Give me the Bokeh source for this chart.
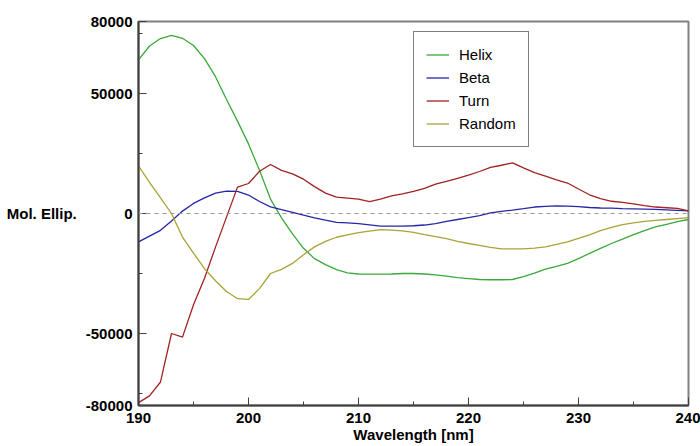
from bokeh.plotting import figure
from bokeh.models import (Range1d, FixedTicker, PrintfTickFormatter, Span,
                          Legend, LegendItem)
from bokeh.embed import file_html
from bokeh.resources import INLINE

wavelength = list(range(190, 241))

helix = [64000, 69800, 72900, 74200, 73000, 70000, 64500, 57000, 47500, 38500,
         29000, 18000, 6000, -1800, -8500, -14500, -18800, -21300, -23400, -24700,
         -25200, -25300, -25300, -25200, -25000, -25000, -25200, -25600, -26100, -26700,
         -27100, -27500, -27600, -27600, -27500, -26300, -24800, -23200, -22000, -20800,
         -18800, -16600, -14500, -12500, -10700, -8800, -7100, -5600, -4500, -3400, -2500]

beta = [-11800, -9400, -7000, -3100, 1000, 4200, 6500, 8500, 9300, 9200,
        7700, 5000, 2750, 1600, 500, -700, -1800, -2800, -3700, -3900,
        -4200, -4700, -5300, -5300, -5300, -5100, -4800, -4200, -3300, -2500,
        -1700, -900, 300, 900, 1400, 2000, 2700, 3000, 3200, 3100,
        2900, 2500, 2300, 2200, 2000, 1900, 1800, 1700, 1500, 1300, 1100]

turn = [-78800, -76000, -70200, -50000, -51500, -38000, -27000, -14000, -1500, 11000,
        12500, 17600, 20400, 18000, 16500, 14300, 11200, 8500, 6800, 6400,
        6000, 4900, 6000, 7300, 8200, 9200, 10500, 12200, 13400, 14600,
        16000, 17500, 19200, 20100, 21100, 19000, 17000, 15600, 14000, 12700,
        10200, 7800, 6200, 5100, 4600, 4000, 3300, 2700, 2400, 2100, 1100]

random_coil = [19900, 13000, 6500, 0, -9800, -16500, -23000, -28000, -32500, -35500,
               -35800, -31300, -25000, -23300, -20800, -17200, -13900, -11600, -9900, -8900,
               -8000, -7300, -6700, -6900, -7200, -7900, -8800, -9600, -10500, -11600,
               -12500, -13300, -14100, -14750, -14750, -14750, -14400, -13900, -12900, -11800,
               -10400, -8900, -7100, -5800, -4600, -3900, -3300, -2900, -2500, -2100, -1700]

series_names = ["Helix", "Beta", "Turn", "Random"]
series_colors = ["#3aa83a", "#2626a6", "#a02222", "#aaa236"]

x_ticks = [190, 200, 210, 220, 230, 240]
x_minor = [195, 205, 215, 225, 235]
y_ticks = [-80000, -50000, 0, 50000, 80000]
y_minor = [-75000, -25000, 25000, 75000]

x_title = "Wavelength [nm]"
y_title = "Mol. Ellip."

FONT = "Liberation Sans"

p = figure(width=700, height=446, output_backend="svg", toolbar_location=None,
           x_range=Range1d(190, 240), y_range=Range1d(-80000, 80000),
           min_border_left=138, min_border_right=12, min_border_top=21,
           min_border_bottom=41)
p.grid.visible = False
p.background_fill_color = "white"
p.border_fill_color = "white"
p.outline_line_color = "#808080"
p.outline_line_width = 2

for ax in (p.xaxis[0], p.yaxis[0]):
    ax.axis_line_color = "#404040"
    ax.axis_line_width = 2
    ax.major_tick_in = 8
    ax.major_tick_out = 0
    ax.minor_tick_in = 4
    ax.minor_tick_out = 0
    ax.major_tick_line_color = "#404040"
    ax.minor_tick_line_color = "#404040"
    ax.major_label_text_font = FONT
    ax.major_label_text_font_style = "bold"
    ax.major_label_text_font_size = "15px"
    ax.major_label_text_color = "black"
    ax.axis_label_text_font = FONT
    ax.axis_label_text_font_style = "bold"
    ax.axis_label_text_font_size = "15px"
    ax.axis_label_text_color = "black"

p.xaxis[0].ticker = FixedTicker(ticks=x_ticks, minor_ticks=x_minor)
p.yaxis[0].ticker = FixedTicker(ticks=y_ticks, minor_ticks=y_minor)
p.yaxis[0].formatter = PrintfTickFormatter(format="%d")
p.xaxis[0].major_label_standoff = 7
p.yaxis[0].major_label_standoff = 6

p.xaxis[0].axis_label = x_title
p.xaxis[0].axis_label_standoff = 0
p.yaxis[0].axis_label = y_title
p.yaxis[0].axis_label_standoff = 6
try:
    p.yaxis[0].axis_label_orientation = "horizontal"
except Exception:
    pass

p.add_layout(Span(location=0, dimension="width", line_color="#999999",
                  line_dash="4 4", line_width=1))

items = []
for name, ys, col in zip(series_names, [helix, beta, turn, random_coil], series_colors):
    r = p.line(wavelength, ys, line_color=col, line_width=1.3)
    items.append(LegendItem(label=name, renderers=[r]))

legend = Legend(items=items, location=(275, 258), padding=12, spacing=2,
                glyph_width=23, glyph_height=21, label_height=21, label_standoff=10,
                label_text_font=FONT, label_text_font_size="15px",
                label_text_color="black", border_line_color="black",
                border_line_width=1, background_fill_color="white",
                background_fill_alpha=1.0, margin=0)
p.add_layout(legend, "center")

open("out.html", "w").write(file_html(p, INLINE))
